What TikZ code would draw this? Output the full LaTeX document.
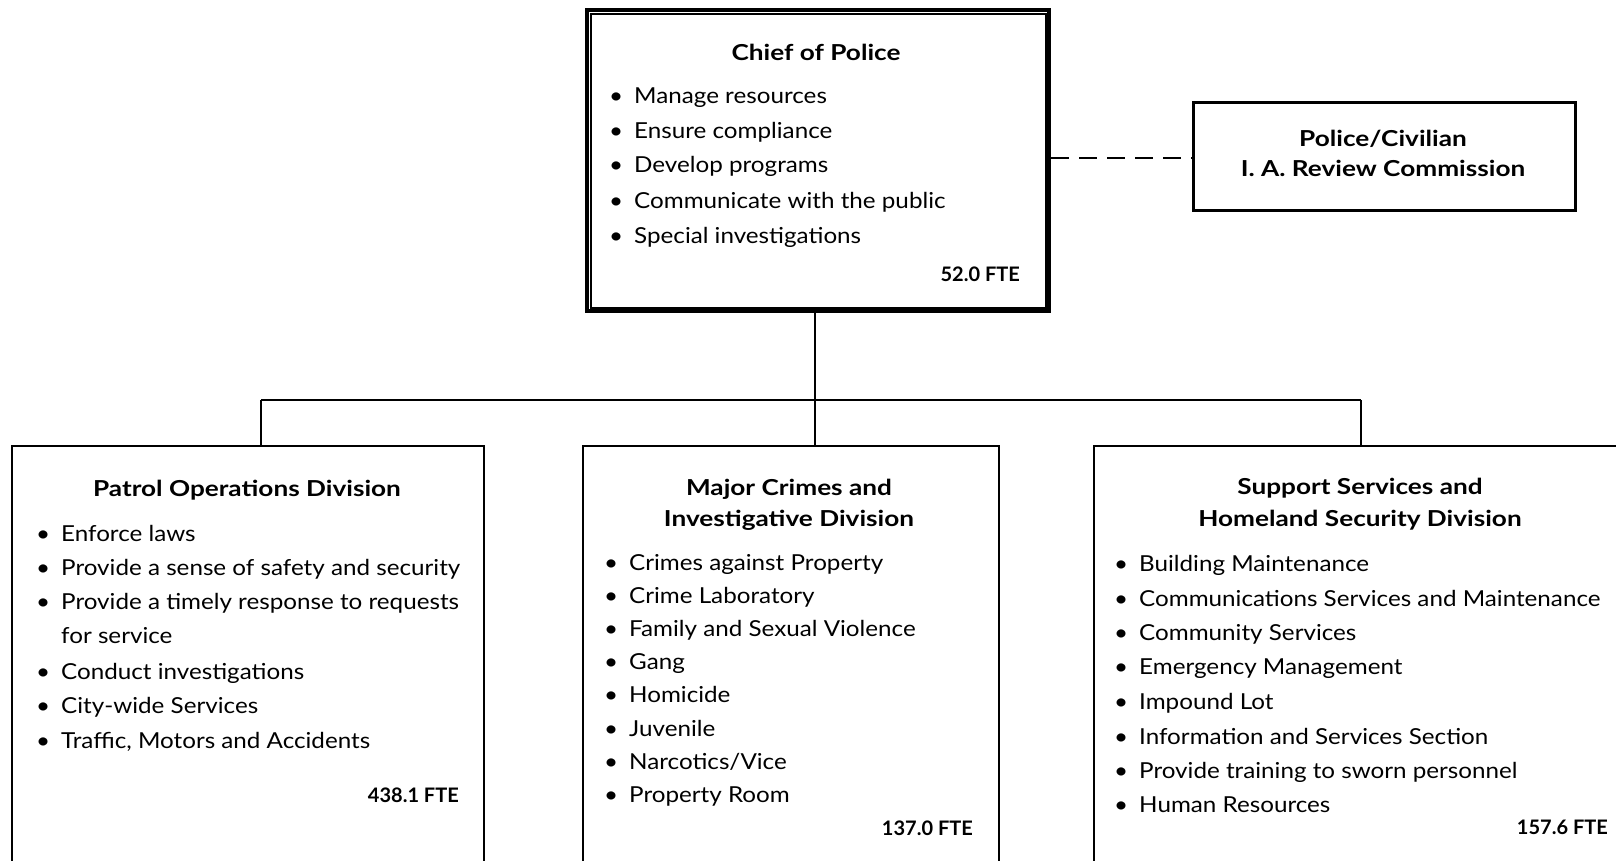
\documentclass[tikz,border=0pt]{standalone}
\usepackage{fontspec}
\setmainfont{Lato}[FakeStretch=1.1]
\newfontfamily\ttlfont{Lato Bold}[FakeStretch=1.19]
\newfontfamily\ftefont{Lato Bold}
\begin{document}
\begin{tikzpicture}[x=1pt,y=-1pt,
  frame/.style={draw, anchor=north west, inner sep=0pt, line width=2pt},
  title/.style={font=\fontsize{22}{26}\selectfont\ttlfont, anchor=base, inner sep=0pt},
  item/.style={font=\fontsize{22}{26}\selectfont, anchor=base west, inner sep=0pt},
  fte/.style={font=\fontsize{20}{24}\selectfont\ftefont, anchor=base east, inner sep=0pt},
  conn/.style={line width=1.5pt}]
\useasboundingbox (0,0) rectangle (1616,861);
\clip (0,0) rectangle (1616,861);
\fill[white] (0,0) rectangle (1616,861);
\newcommand{\bl}{\makebox[25pt][l]{\textbullet}}
% Chief
\node[frame, line width=4pt, minimum width=462pt, minimum height=301pt] (chief) at (585,8) {};
\draw[line width=1.2pt] ([shift={(6,6)}]chief.north west) rectangle ([shift={(-5,-5)}]chief.south east);
\node[title] (chieft) at (816,61) {Chief of Police};
\node[item] (c1) at (609,104) {\bl Manage resources};
\node[item] (c2) at (609,139) {\bl Ensure compliance};
\node[item] (c3) at (609,173) {\bl Develop programs};
\node[item] (c4) at (609,208) {\bl Communicate with the public};
\node[item] (c5) at (609,243) {\bl Special investigations};
\node[fte] (cf) at (1020,281) {52.0 FTE};
% Review
\node[frame, line width=3pt, minimum width=382pt, minimum height=108pt] (rev) at (1192,101) {};
\node[title] (revt1) at (1383,147) {Police/Civilian};
\node[title] (revt2) at (1383,177) {I. A. Review Commission};
% Divisions
\node[frame, minimum width=472pt, minimum height=455pt] (left) at (11,445) {};
\node[frame, minimum width=416pt, minimum height=455pt] (mid) at (582,445) {};
\node[frame, minimum width=620pt, minimum height=455pt] (right) at (1093,445) {};
% left content
\node[title] (lt) at (247,496) {Patrol Operations Division};
\node[item] (l1) at (36,541) {\bl Enforce laws};
\node[item] (l2) at (36,575) {\bl Provide a sense of safety and security};
\node[item] (l3) at (36,609) {\bl Provide a timely response to requests};
\node[item] (l3b) at (61,643) {for service};
\node[item] (l4) at (36,679) {\bl Conduct investigations};
\node[item] (l5) at (36,713) {\bl City-wide Services};
\node[item] (l6) at (36,748) {\bl Traffic, Motors and Accidents};
\node[fte] (lf) at (459,802) {438.1 FTE};
% mid content
\node[title] (mt1) at (789,495) {Major Crimes and};
\node[title] (mt2) at (789,526) {Investigative Division};
\node[item] (m1) at (604,570) {\bl Crimes against Property};
\node[item] (m2) at (604,603) {\bl Crime Laboratory};
\node[item] (m3) at (604,636) {\bl Family and Sexual Violence};
\node[item] (m4) at (604,669) {\bl Gang};
\node[item] (m5) at (604,702) {\bl Homicide};
\node[item] (m6) at (604,736) {\bl Juvenile};
\node[item] (m7) at (604,769) {\bl Narcotics/Vice};
\node[item] (m8) at (604,802) {\bl Property Room};
\node[fte] (mf) at (973,835) {137.0 FTE};
% right content
\node[title] (rt1) at (1360,494) {Support Services and};
\node[title] (rt2) at (1360,526) {Homeland Security Division};
\node[item] (r1) at (1114,571) {\bl Building Maintenance};
\node[item] (r2) at (1114,606) {\bl Communications Services and Maintenance};
\node[item] (r3) at (1114,640) {\bl Community Services};
\node[item] (r4) at (1114,674) {\bl Emergency Management};
\node[item] (r5) at (1114,709) {\bl Impound Lot};
\node[item] (r6) at (1114,744) {\bl Information and Services Section};
\node[item] (r7) at (1114,778) {\bl Provide training to sworn personnel};
\node[item] (r8) at (1114,812) {\bl Human Resources};
\node[fte] (rf) at (1608,834) {157.6 FTE};
% connectors
\coordinate (hub) at (815,400);
\coordinate (hl) at (261,400);
\coordinate (hr) at (1361,400);
\coordinate (dash) at (1192,158);
\draw[conn] (chief.south -| hub) -- (hub);
\draw[conn] (hub) -- (hub |- mid.north);
\draw[conn] (hl) -- (hr);
\draw[conn] (hl) -- (hl |- left.north);
\draw[conn] (hr) -- (hr |- right.north);
\draw[line width=2pt, dash pattern=on 18pt off 10pt] (dash -| chief.east) -- (dash -| rev.west);
\end{tikzpicture}
\end{document}
